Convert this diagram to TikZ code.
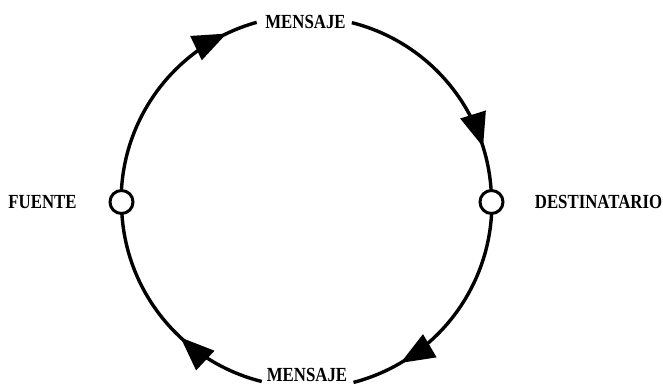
\documentclass[tikz,border=0pt]{standalone}
\usepackage{fontspec}
\setmainfont{Liberation Serif}
\usetikzlibrary{arrows.meta,decorations.markings}
\begin{document}
\begin{tikzpicture}[x=1pt,y=1pt,
  flow/.style={line width=3.4pt},
  tipat/.style={postaction={decorate},decoration={markings,mark=at position #1 with {\arrow{Triangle[length=34pt,width=26pt]}}}},
  port/.style={circle,draw,fill=white,line width=3pt,minimum size=23pt,inner sep=0pt},
  lbl/.style={font=\bfseries\fontsize{20}{20}\selectfont,xscale=0.84,inner sep=1pt}]
\useasboundingbox (0,0) rectangle (663,386);
\coordinate (c) at (306.5,184);
\node[port] (f) at (121.5,184) {};
\node[port] (d) at (491.5,184) {};
\node[lbl] (top) at (305.5,364) {MENSAJE};
\node[lbl] (bot) at (307,11) {MENSAJE};
\node[lbl] (fl) at (42.5,184) {FUENTE};
\node[lbl] (dl) at (598.5,184) {DESTINATARIO};
\draw[flow,tipat=0.86] (f.north) arc[start angle=176.4,end angle=105.5,radius=185];
\draw[flow,tipat=0.81] ([shift={(75.8:185)}]c) arc[start angle=75.8,end angle=3.6,radius=185];
\draw[flow,tipat=0.78] (d.south) arc[start angle=-3.6,end angle=-75.4,radius=185];
\draw[flow,tipat=0.40] ([shift={(-104:185)}]c) arc[start angle=-104,end angle=-176.4,radius=185];
\end{tikzpicture}
\end{document}
